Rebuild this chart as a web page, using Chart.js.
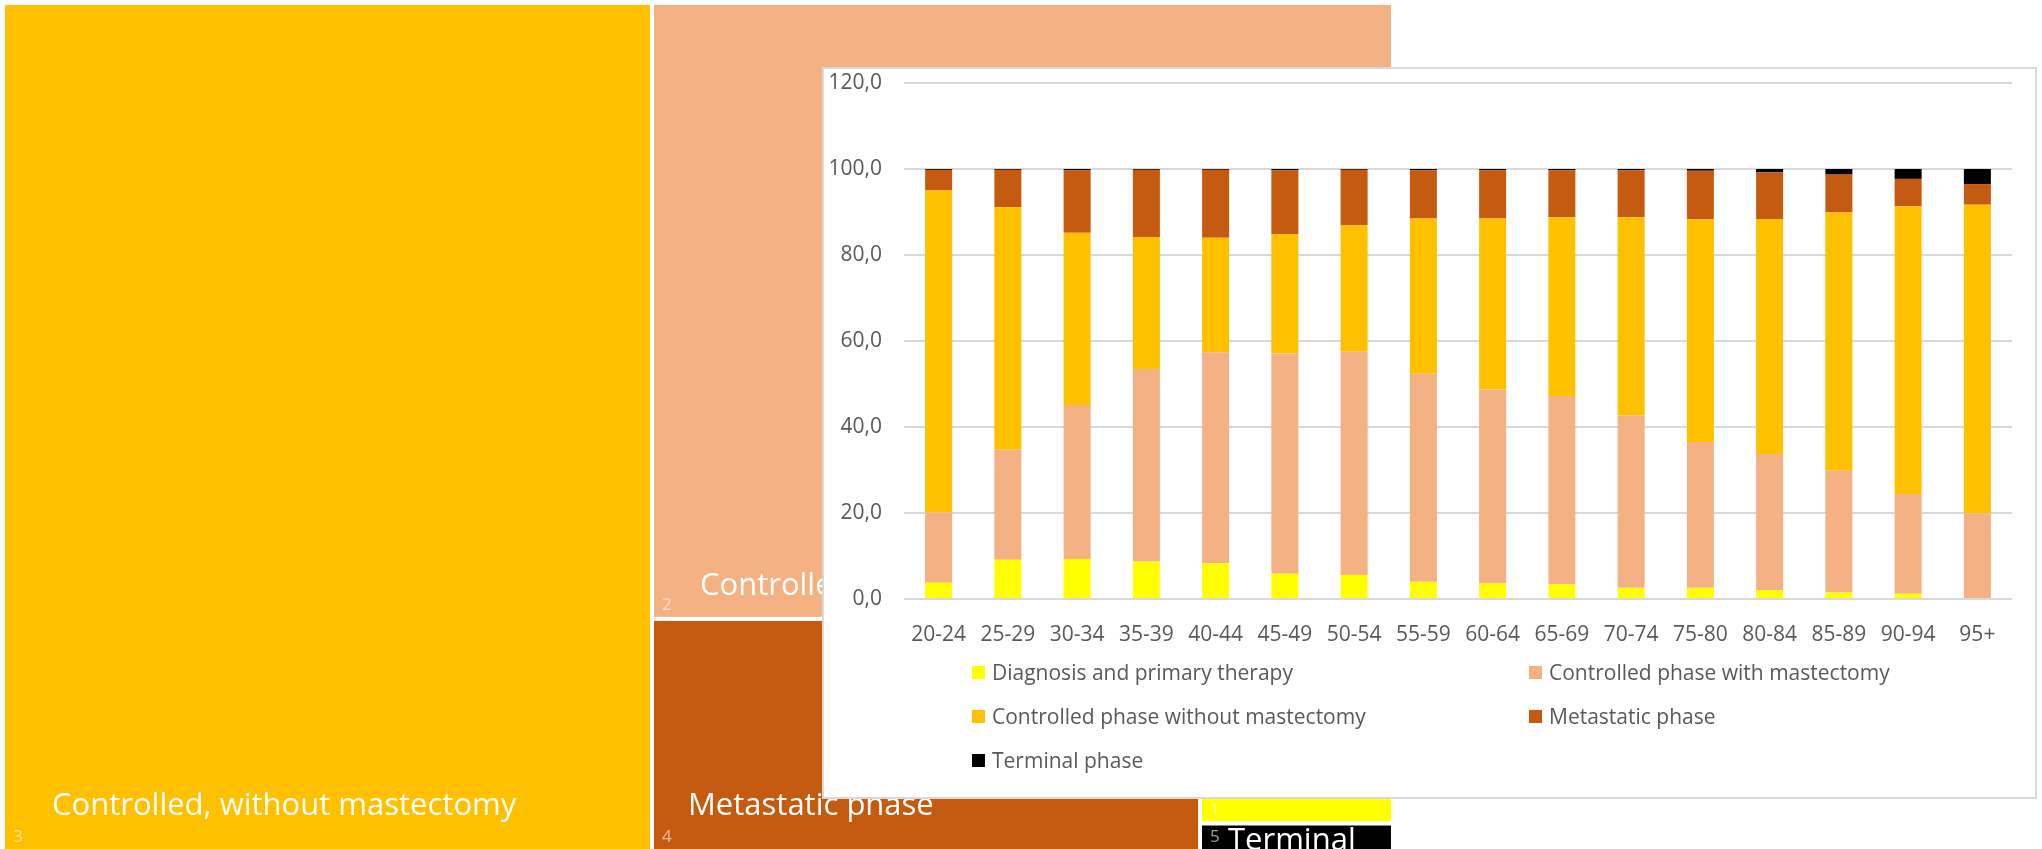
<!DOCTYPE html>
<html>
<head>
<meta charset="utf-8">
<title>Phases of breast cancer care by age group</title>
<script src="https://cdn.jsdelivr.net/npm/chart.js@4.4.1/dist/chart.umd.min.js"></script>
<style>
  html, body { margin: 0; padding: 0; background: #fff; }
  body { width: 2042px; height: 849px; overflow: hidden; position: relative; font-family: 'Open Sans', sans-serif; }
  #treemap { position: absolute; left: 0; top: 0; }
  #panel { position: absolute; left: 822px; top: 67px; width: 1215px; height: 732px; box-sizing: border-box; border: 2px solid #d9d9d9; background: #fff; }
  #bars { position: absolute; left: 822px; top: 67px; }
  #legend { position: absolute; left: 972px; top: 650px; display: grid; grid-template-columns: 557px 557px; grid-auto-rows: 44px; color: #595959; font-size: 21px; }
  .item { display: flex; align-items: center; white-space: nowrap; }
  .swatch { width: 13px; height: 13px; margin-right: 7px; }
</style>
</head>
<body>
<canvas id="treemap" width="2042" height="860"></canvas>
<div id="panel"></div>
<canvas id="bars" width="1215" height="600"></canvas>
<div id="legend"></div>

<script>
/* Age groups and phase shares (%) */
const ageGroups = ['20-24', '25-29', '30-34', '35-39', '40-44', '45-49', '50-54', '55-59',
                   '60-64', '65-69', '70-74', '75-80', '80-84', '85-89', '90-94', '95+'];

const diagnosis      = [3.8, 9.1, 9.3, 8.7, 8.3, 5.9, 5.6, 4.0, 3.6, 3.4, 2.6, 2.6, 2.1, 1.5, 1.2, 0.0];
const withMastect    = [16.3, 25.6, 35.8, 44.8, 49.1, 51.2, 51.9, 48.4, 45.1, 43.8, 40.1, 33.9, 31.6, 28.3, 23.2, 19.9];
const withoutMastect = [74.9, 56.4, 40.1, 30.7, 26.6, 27.8, 29.5, 36.1, 39.8, 41.6, 46.1, 51.8, 54.7, 60.1, 66.9, 71.8];
const metastatic     = [4.8, 8.7, 14.5, 15.6, 15.8, 14.8, 12.8, 11.2, 11.2, 10.9, 10.9, 11.3, 10.8, 8.8, 6.4, 4.8];
const terminal       = [0.2, 0.2, 0.3, 0.2, 0.2, 0.3, 0.2, 0.3, 0.3, 0.3, 0.3, 0.4, 0.8, 1.3, 2.3, 3.5];

const yTicks = [0, 20, 40, 60, 80, 100, 120];

/* Overall share of each phase, shown as a treemap behind the bars */
const treemapIds    = [1, 2, 3, 4, 5];
const treemapLabels = ['Diagnosis', 'Controlled, with mastectomy', 'Controlled, without mastectomy', 'Metastatic phase', 'Terminal'];
const treemapShares = [3.35, 38.72, 46.69, 10.79, 0.45];

const COLORS = {
  diagnosis: '#FFFF00',
  withM: '#F4B183',
  withoutM: '#FFC000',
  metastatic: '#C55A11',
  terminal: '#000000'
};
const treemapColors = [COLORS.diagnosis, COLORS.withM, COLORS.withoutM, COLORS.metastatic, COLORS.terminal];

Chart.defaults.font.family = "'Open Sans', sans-serif";

// slice layout: biggest first, cutting columns and rows in turn
const treemapCells = {
  id: 'treemapCells',
  afterDraw(chart, args, opts) {
    const ctx = chart.ctx, xs = chart.scales.x, ys = chart.scales.y;
    const order = treemapShares.map((v, i) => i).sort((a, b) => treemapShares[b] - treemapShares[a]);
    let left = 0, right = 1, top = 0, bottom = 1;
    let rest = treemapShares.reduce((a, b) => a + b, 0);
    const cells = [];
    order.forEach((i, k) => {
      const f = treemapShares[i] / rest;
      if (k % 2 === 0) {
        const cut = left + (right - left) * f;
        cells.push({ i, x0: left, x1: cut, y0: top, y1: bottom });
        left = cut;
      } else {
        const cut = top + (bottom - top) * f;
        cells.push({ i, x0: left, x1: right, y0: top, y1: cut });
        top = cut;
      }
      rest -= treemapShares[i];
    });

    ctx.save();
    cells.forEach(c => {
      const x0 = xs.getPixelForValue(c.x0), x1 = xs.getPixelForValue(c.x1);
      const y0 = ys.getPixelForValue(c.y0), y1 = ys.getPixelForValue(c.y1);
      c.px = { x0, x1, y0, y1 };
      ctx.fillStyle = treemapColors[c.i];
      ctx.fillRect(x0, y0, x1 - x0, y1 - y0);
      ctx.strokeStyle = '#fff';
      ctx.lineWidth = 4;
      ctx.strokeRect(x0, y0, x1 - x0, y1 - y0);
    });
    cells.forEach(c => {
      const p = c.px;
      ctx.textBaseline = 'alphabetic';
      ctx.fillStyle = 'rgba(255,255,255,0.6)';
      ctx.font = "17px 'Open Sans', sans-serif";
      ctx.fillText(String(treemapIds[c.i]), p.x0 + 10, p.y1 - 9);
      ctx.fillStyle = '#fff';
      ctx.font = "31px 'Open Sans', sans-serif";
      const y = Math.max(p.y1 - opts.labelDy[c.i], p.y0 + 26);
      ctx.fillText(treemapLabels[c.i], p.x0 + opts.labelDx[c.i], y);
    });
    ctx.restore();
  }
};

new Chart(document.getElementById('treemap'), {
  type: 'scatter',
  data: { datasets: [] },
  options: {
    responsive: false,
    animation: false,
    events: [],
    layout: { padding: { left: 3, top: 3, right: 649, bottom: 9 } },
    scales: {
      x: { type: 'linear', min: 0, max: 1, display: false },
      y: { type: 'linear', min: 0, max: 1, reverse: true, display: false }
    },
    plugins: {
      legend: { display: false },
      tooltip: { enabled: false },
      treemapCells: { labelDx: [36, 48, 49, 36, 28], labelDy: [36, 24, 36, 36, 36] }
    }
  },
  plugins: [treemapCells]
});

/* Stacked bars */
const tickFont = { size: 21 };
const bars = new Chart(document.getElementById('bars'), {
  type: 'bar',
  data: {
    labels: ageGroups,
    datasets: [
      { label: 'Diagnosis and primary therapy', data: diagnosis, backgroundColor: COLORS.diagnosis },
      { label: 'Controlled phase with mastectomy', data: withMastect, backgroundColor: COLORS.withM },
      { label: 'Controlled phase without mastectomy', data: withoutMastect, backgroundColor: COLORS.withoutM },
      { label: 'Metastatic phase', data: metastatic, backgroundColor: COLORS.metastatic },
      { label: 'Terminal phase', data: terminal, backgroundColor: COLORS.terminal }
    ]
  },
  options: {
    responsive: false,
    animation: false,
    layout: { padding: { left: 0, top: 16, right: 25, bottom: 0 } },
    datasets: { bar: { barPercentage: 0.39, categoryPercentage: 1.0, borderWidth: 0 } },
    scales: {
      x: {
        stacked: true,
        grid: { display: false, drawTicks: false },
        border: { display: false },
        ticks: { color: '#595959', font: tickFont, padding: 23, maxRotation: 0, autoSkip: false },
        afterFit: s => { s.height = 68; }
      },
      y: {
        stacked: true,
        min: 0,
        max: 120,
        afterBuildTicks: s => { s.ticks = yTicks.map(v => ({ value: v })); },
        ticks: { color: '#595959', font: tickFont, padding: 22, callback: v => v.toFixed(1).replace('.', ',') },
        grid: { color: '#d9d9d9', lineWidth: 2, drawTicks: false },
        border: { display: false },
        // tick padding is horizontal here; keep it out of the top/bottom overflow
        afterFit: s => { s.width = 82; s.paddingTop = 0; s.paddingBottom = 0; }
      }
    },
    plugins: {
      legend: { display: false },
      tooltip: { enabled: false }
    }
  }
});

// legend in two columns, row by row
const legendEl = document.getElementById('legend');
bars.data.datasets.forEach(ds => {
  const item = document.createElement('div');
  item.className = 'item';
  const sw = document.createElement('span');
  sw.className = 'swatch';
  sw.style.background = ds.backgroundColor;
  item.appendChild(sw);
  item.appendChild(document.createTextNode(ds.label));
  legendEl.appendChild(item);
});
</script>
</body>
</html>
